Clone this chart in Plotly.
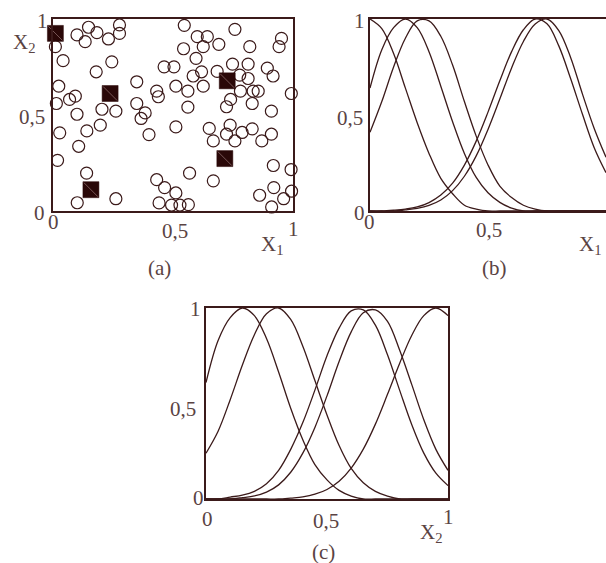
import plotly.graph_objects as go

# panel (a): sample points (open circles) and centres (filled squares)
pts_x = [0.010, 0.148, 0.100, 0.134, 0.183, 0.231, 0.277, 0.277, 0.042, 0.245,
         0.180, 0.024, 0.014, 0.069, 0.093, 0.100, 0.028, 0.141, 0.107, 0.204,
         0.262, 0.197, 0.019, 0.140, 0.101, 0.262, 0.349, 0.349, 0.384, 0.367,
         0.400, 0.432, 0.439, 0.463, 0.504, 0.512, 0.562, 0.562, 0.512, 0.547,
         0.544, 0.601, 0.643, 0.626, 0.596, 0.584, 0.619, 0.626, 0.691, 0.684,
         0.758, 0.820, 0.748, 0.813, 0.778, 0.813, 0.781, 0.740, 0.723, 0.834,
         0.855, 0.830, 0.893, 0.917, 0.952, 0.942, 0.993, 0.910, 0.651, 0.668,
         0.738, 0.723, 0.758, 0.788, 0.830, 0.870, 0.910, 0.432, 0.465, 0.512,
         0.569, 0.668, 0.442, 0.494, 0.529, 0.564, 0.861, 0.918, 0.920, 0.961,
         0.992, 0.994, 0.911]
pts_y = [0.856, 0.957, 0.917, 0.882, 0.929, 0.896, 0.969, 0.925, 0.783, 0.777,
         0.725, 0.650, 0.560, 0.581, 0.598, 0.504, 0.407, 0.417, 0.337, 0.530,
         0.520, 0.447, 0.264, 0.197, 0.043, 0.064, 0.673, 0.560, 0.511, 0.482,
         0.398, 0.624, 0.595, 0.751, 0.751, 0.650, 0.624, 0.541, 0.438, 0.967,
         0.845, 0.908, 0.908, 0.856, 0.795, 0.703, 0.725, 0.650, 0.868, 0.727,
         0.946, 0.856, 0.765, 0.765, 0.708, 0.690, 0.624, 0.581, 0.543, 0.624,
         0.624, 0.560, 0.744, 0.703, 0.899, 0.856, 0.612, 0.520, 0.430, 0.365,
         0.447, 0.400, 0.365, 0.409, 0.428, 0.365, 0.400, 0.163, 0.122, 0.094,
         0.197, 0.157, 0.042, 0.031, 0.031, 0.033, 0.082, 0.237, 0.122, 0.064,
         0.216, 0.103, 0.021]
centre_x = [0.010, 0.238, 0.726, 0.716, 0.158]
centre_y = [0.925, 0.612, 0.678, 0.273, 0.111]

# panels (b) and (c): membership curves read on a common grid
grid_x = [0.0, 0.05, 0.1, 0.15, 0.2, 0.25, 0.3, 0.35, 0.4, 0.45, 0.5,
          0.55, 0.6, 0.65, 0.7, 0.75, 0.8, 0.85, 0.9, 0.95, 1.0]

b_curves = [
    [1.0, 0.95, 0.82, 0.64, 0.46, 0.30, 0.17, 0.09, 0.03, 0.01, 0, 0, 0, 0, 0, 0, 0, 0, 0, 0, 0],
    [0.64, 0.84, 0.955, 1.0, 0.955, 0.83, 0.65, 0.465, 0.30, 0.175, 0.095, 0.045, 0.015, 0, 0, 0, 0, 0, 0, 0, 0],
    [0.41, 0.57, 0.75, 0.90, 0.99, 0.99, 0.91, 0.76, 0.57, 0.39, 0.24, 0.13, 0.07, 0.03, 0.01, 0, 0, 0, 0, 0, 0],
    [0, 0, 0.004, 0.01, 0.021, 0.044, 0.083, 0.145, 0.239, 0.364, 0.515, 0.678, 0.83, 0.944, 1.0, 0.975, 0.86, 0.69, 0.505, 0.33, 0.20],
    [0, 0, 0, 0.006, 0.014, 0.029, 0.057, 0.106, 0.181, 0.287, 0.425, 0.583, 0.745, 0.883, 0.974, 1.0, 0.94, 0.80, 0.61, 0.43, 0.28],
]
c_curves = [
    [0.61, 0.83, 0.95, 1.0, 0.96, 0.84, 0.665, 0.475, 0.31, 0.18, 0.10, 0.045, 0.015, 0, 0, 0, 0, 0, 0, 0, 0],
    [0.24, 0.355, 0.52, 0.70, 0.86, 0.97, 1.0, 0.94, 0.80, 0.62, 0.44, 0.28, 0.16, 0.085, 0.04, 0.015, 0, 0, 0, 0, 0],
    [0, 0, 0.01, 0.02, 0.04, 0.08, 0.15, 0.26, 0.40, 0.57, 0.75, 0.895, 0.985, 0.99, 0.91, 0.755, 0.57, 0.39, 0.24, 0.135, 0.07],
    [0, 0, 0, 0.007, 0.016, 0.036, 0.074, 0.14, 0.24, 0.375, 0.54, 0.72, 0.875, 0.975, 0.99, 0.93, 0.78, 0.60, 0.415, 0.26, 0.15],
    [0, 0, 0, 0, 0, 0, 0, 0.005, 0.011, 0.025, 0.05, 0.093, 0.162, 0.261, 0.392, 0.548, 0.71, 0.856, 0.96, 1.0, 0.96],
]

W, H = 606, 563
ink = "#3b1a1a"
txt = "#5a4343"
font = dict(family="Liberation Serif, Times New Roman, serif", size=21, color=txt)

fig = go.Figure()

# (a) scatter
fig.add_trace(go.Scatter(x=pts_x, y=pts_y, mode="markers", xaxis="x", yaxis="y",
                         marker=dict(symbol="circle-open", size=12, color=ink,
                                     line=dict(width=1.2, color=ink)),
                         cliponaxis=False, showlegend=False))
fig.add_trace(go.Scatter(x=centre_x, y=centre_y, mode="markers", xaxis="x", yaxis="y",
                         marker=dict(symbol="square", size=16, color="#2a0808",
                                     line=dict(width=0.5, color="#2a0808")),
                         cliponaxis=False, showlegend=False))
fig.add_trace(go.Scatter(x=centre_x, y=centre_y, mode="markers", xaxis="x", yaxis="y",
                         marker=dict(symbol="line-nw", size=14,
                                     line=dict(width=0.8, color="#8a6a6a")),
                         cliponaxis=False, showlegend=False))

# (b) curves over X1
for ys in b_curves:
    fig.add_trace(go.Scatter(x=grid_x, y=ys, mode="lines", xaxis="x2", yaxis="y2",
                             line=dict(color=ink, width=1.3, shape="spline", smoothing=1),
                             showlegend=False))

# (c) curves over X2
for ys in c_curves:
    fig.add_trace(go.Scatter(x=grid_x, y=ys, mode="lines", xaxis="x3", yaxis="y3",
                             line=dict(color=ink, width=1.3, shape="spline", smoothing=1),
                             showlegend=False))

ax = dict(range=[0, 1], showgrid=False, zeroline=False, showticklabels=False, ticks="",
          showline=True, linecolor=ink, linewidth=1.5, fixedrange=True)

fig.update_layout(
    width=W, height=H,
    margin=dict(l=0, r=0, t=0, b=0),
    paper_bgcolor="white", plot_bgcolor="white",
    xaxis=dict(ax, domain=[53 / W, 293 / W], mirror=True, anchor="y"),
    yaxis=dict(ax, domain=[1 - 211 / H, 1 - 19 / H], mirror=True, anchor="x"),
    xaxis2=dict(ax, domain=[370 / W, 1.0], mirror=True, anchor="y2"),
    yaxis2=dict(ax, domain=[1 - 211 / H, 1 - 19 / H], mirror=False, anchor="x2"),
    xaxis3=dict(ax, domain=[206 / W, 448 / W], mirror=True, anchor="y3"),
    yaxis3=dict(ax, domain=[1 - 499 / H, 1 - 308 / H], mirror=True, anchor="x3"),
)

# tick labels, axis names and panel captions
labels = [
    ("1", 42, 21), ("0,5", 32, 117), ("0", 40, 213),
    ("0", 53, 222), ("0,5", 175, 231), ("1", 293, 229),
    ("X<sub>2</sub>", 24, 43), ("X<sub>1</sub>", 272, 245), ("(a)", 159, 268),
    ("1", 359, 21), ("0,5", 350, 118), ("0", 359, 213),
    ("0", 370, 222), ("0,5", 489, 230),
    ("X<sub>1</sub>", 590, 245), ("(b)", 495, 268),
    ("1", 195, 309), ("0,5", 183, 409), ("0", 198, 498),
    ("0", 207, 519), ("0,5", 326, 521), ("1", 448, 517),
    ("X<sub>2</sub>", 431, 533), ("(c)", 323, 552),
]
for text, px, py in labels:
    fig.add_annotation(text=text, x=px / W, y=1 - py / H, xref="paper", yref="paper",
                       xanchor="center", yanchor="middle", showarrow=False, font=font)

# page body has a default margin; drop it so the figure sits at the window corner
fig.write_html("out.html", config={"displayModeBar": False},
               post_script="document.body.style.margin='0';")
